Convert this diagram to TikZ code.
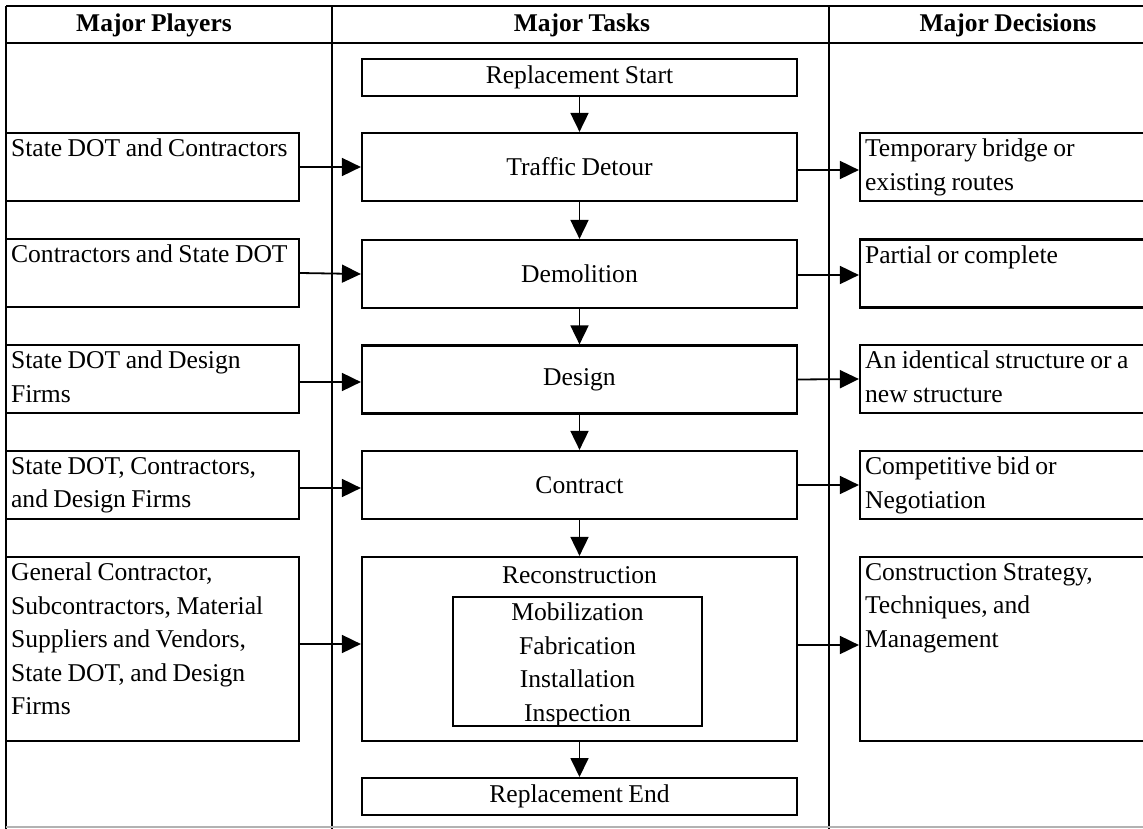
\documentclass[tikz,border=0pt]{standalone}
\usepackage{fontspec}
\setmainfont{Liberation Serif}[WordSpace=0.85]
\usetikzlibrary{arrows.meta}
\tikzset{
  x=1pt, y=-1pt,
  box/.style={draw=black, line width=2.2pt, rectangle, inner sep=0pt, fill=white},
  ibox/.style={draw=black, line width=1.6pt, rectangle, inner sep=0pt},
  frame/.style={line width=1.6pt, black},
  arr/.style={line width=1.8pt, -{Triangle[length=19pt,width=18pt]}},
  txt/.style={inner sep=0pt, font=\fontsize{25.6}{33.5}\selectfont},
  boxtxt/.style={txt, anchor=north west, align=left},
  head/.style={inner sep=0pt, font=\fontsize{25.5}{33.5}\selectfont\bfseries},
}
\begin{document}
\begin{tikzpicture}
\useasboundingbox (0,0) rectangle (1143,829);
\fill[white] (0,0) rectangle (1143,829);
% frame
\draw[frame, line width=2.4pt] (6,6) -- (1145,6);
\draw[frame] (6,43) -- (1145,43);
\draw[frame] (6,6) -- (6,829);
\draw[frame] (332,6) -- (332,829);
\draw[frame] (829,6) -- (829,829);
\draw[gray!60, line width=1.2pt] (6,827) -- (1145,827);
% headers
\node[head] (h1) at (154,25) {Major Players};
\node[head] (h2) at (582,25) {Major Tasks};
\node[head] (h3) at (1008,25) {Major Decisions};
% left boxes
\node[box, minimum width=293pt, minimum height=68pt] (L1) at (152.5,167) {};
\node[box, minimum width=293pt, minimum height=68pt] (L2) at (152.5,273) {};
\node[box, minimum width=293pt, minimum height=68pt] (L3) at (152.5,379) {};
\node[box, minimum width=293pt, minimum height=68pt] (L4) at (152.5,485) {};
\node[box, minimum width=293pt, minimum height=184pt] (L5) at (152.5,649) {};
\node[boxtxt] (l1t) at ([xshift=6pt,yshift=-7pt]L1.north west) {State DOT and Contractors};
\node[boxtxt] (l2t) at ([xshift=6pt,yshift=-7pt]L2.north west) {Contractors and State DOT};
\node[boxtxt] (l3t) at ([xshift=6pt,yshift=-7pt]L3.north west) {State DOT and Design\\Firms};
\node[boxtxt] (l4t) at ([xshift=6pt,yshift=-7pt]L4.north west) {State DOT, Contractors,\\and Design Firms};
\node[boxtxt] (l5t) at ([xshift=6pt,yshift=-7pt]L5.north west) {General Contractor,\\Subcontractors, Material\\Suppliers and Vendors,\\State DOT, and Design\\Firms};
% center boxes
\node[box, line width=2pt, minimum width=435pt, minimum height=37pt, txt] (S) at (579.5,77.5) {Replacement Start};
\node[box, minimum width=435pt, minimum height=68pt, txt] (T1) at (579.5,167) {Traffic Detour};
\node[box, minimum width=435pt, minimum height=68pt, txt] (T2) at (579.5,274) {Demolition};
\node[box, minimum width=435pt, minimum height=68pt, txt] (T3) at (579.5,379.5) {Design};
\node[box, minimum width=435pt, minimum height=68pt, txt] (T4) at (579.5,485) {Contract};
\node[box, minimum width=435pt, minimum height=184pt] (T5) at (579.5,649) {};
\node[txt] (t5t) at (579.5,575) {Reconstruction};
\node[ibox, minimum width=249pt, minimum height=129pt] (I) at (577.5,661.5) {};
\node[txt, align=center] (it) at (577.5,665) {Mobilization\\Fabrication\\Installation\\Inspection};
\node[box, line width=2pt, minimum width=435pt, minimum height=37pt, txt] (E) at (579.5,796.5) {Replacement End};
% right boxes
\node[box, minimum width=286pt, minimum height=68pt] (D1) at (1003,167) {};
\node[box, minimum width=286pt, minimum height=68pt] (D2) at (1003,273.5) {};
\node[box, minimum width=286pt, minimum height=68pt] (D3) at (1003,379) {};
\node[box, minimum width=286pt, minimum height=68pt] (D4) at (1003,485) {};
\node[box, minimum width=286pt, minimum height=184pt] (D5) at (1003,649) {};
\node[boxtxt] (d1t) at ([xshift=6pt,yshift=-7pt]D1.north west) {Temporary bridge or\\existing routes};
\node[boxtxt] (d2t) at ([xshift=6pt,yshift=-7pt]D2.north west) {Partial or complete};
\node[boxtxt] (d3t) at ([xshift=6pt,yshift=-7pt]D3.north west) {An identical structure or a\\new structure};
\node[boxtxt] (d4t) at ([xshift=6pt,yshift=-7pt]D4.north west) {Competitive bid or\\Negotiation};
\node[boxtxt] (d5t) at ([xshift=6pt,yshift=-7pt]D5.north west) {Construction Strategy,\\Techniques, and\\Management};
% vertical arrows
\draw[arr] (S.south) -- (T1.north);
\draw[arr] (T1.south) -- (T2.north);
\draw[arr] (T2.south) -- (T3.north);
\draw[arr] (T3.south) -- (T4.north);
\draw[arr] (T4.south) -- (T5.north);
\draw[arr] (T5.south) -- (E.north);
% left arrows
\draw[arr] (L1.east) -- (T1.west);
\draw[arr] (L2.east) -- (T2.west);
\draw[arr] ([yshift=-3pt]L3.east) -- ([yshift=-3pt]L3.east -| T3.west);
\draw[arr] ([yshift=-3pt]L4.east) -- ([yshift=-3pt]L4.east -| T4.west);
\draw[arr] ([yshift=5pt]L5.east) -- ([yshift=5pt]L5.east -| T5.west);
% right arrows
\draw[arr] ([yshift=-3pt]T1.east) -- ([yshift=-3pt]T1.east -| D1.west);
\draw[arr] ([yshift=-1pt]T2.east) -- ([yshift=-1pt]T2.east -| D2.west);
\draw[arr] (T3.east) -- (D3.west);
\draw[arr] (T4.east) -- (D4.west);
\draw[arr] ([yshift=4pt]T5.east) -- ([yshift=4pt]T5.east -| D5.west);
\end{tikzpicture}
\end{document}
